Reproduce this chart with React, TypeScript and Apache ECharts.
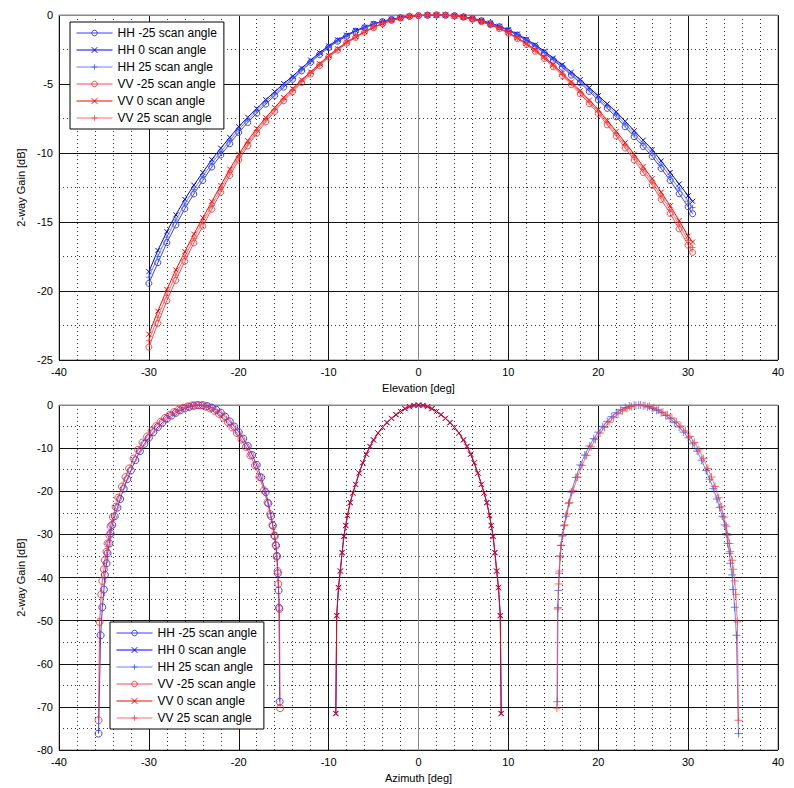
import React, { useEffect, useRef } from "react";
import * as echarts from "echarts";

// ---------- Elevation (top plot) ----------
const ELEV = [-30,-29,-28,-27,-26,-25,-24,-23,-22,-21,-20,-19,-18,-17,-16,-15,-14,-13,-12,-11,-10,-9,-8,-7,-6,-5,-4,-3,-2,-1,0,1,2,3,4,5,6,7,8,9,10,11,12,13,14,15,16,17,18,19,20,21,22,23,24,25,26,27,28,29,30,30.5];

const EL_HH_M25 = [-19.45,-17.95,-16.5,-15.22,-14.04,-12.97,-11.99,-11.02,-10.15,-9.33,-8.51,-7.79,-7.12,-6.46,-5.84,-5.23,-4.66,-4.05,-3.43,-2.87,-2.36,-1.9,-1.54,-1.18,-0.92,-0.67,-0.48,-0.32,-0.19,-0.1,-0.04,-0.01,0,-0.01,-0.05,-0.13,-0.26,-0.41,-0.62,-0.85,-1.13,-1.46,-1.85,-2.28,-2.77,-3.28,-3.79,-4.36,-4.92,-5.54,-6.15,-6.77,-7.38,-8.1,-8.82,-9.53,-10.25,-11.12,-11.99,-12.95,-13.9,-14.4];
const EL_HH_0 = [-18.6,-17.06,-15.7,-14.48,-13.36,-12.33,-11.41,-10.48,-9.65,-8.87,-8.09,-7.41,-6.78,-6.14,-5.56,-4.97,-4.44,-3.85,-3.27,-2.73,-2.24,-1.8,-1.46,-1.12,-0.88,-0.63,-0.46,-0.3,-0.19,-0.1,-0.04,-0.01,0,-0.01,-0.05,-0.13,-0.24,-0.39,-0.58,-0.81,-1.07,-1.38,-1.76,-2.16,-2.63,-3.12,-3.61,-4.14,-4.68,-5.27,-5.85,-6.44,-7.02,-7.7,-8.39,-9.07,-9.75,-10.58,-11.41,-12.25,-13.1,-13.5];
const EL_HH_25 = [-19.0,-17.5,-16.1,-14.85,-13.7,-12.65,-11.7,-10.75,-9.9,-9.1,-8.3,-7.6,-6.95,-6.3,-5.7,-5.1,-4.55,-3.95,-3.35,-2.8,-2.3,-1.85,-1.5,-1.15,-0.9,-0.65,-0.47,-0.31,-0.19,-0.1,-0.04,-0.01,0,-0.01,-0.05,-0.13,-0.25,-0.4,-0.6,-0.83,-1.1,-1.42,-1.8,-2.22,-2.7,-3.2,-3.7,-4.25,-4.8,-5.4,-6.0,-6.6,-7.2,-7.9,-8.6,-9.3,-10.0,-10.85,-11.7,-12.6,-13.5,-13.95];
const EL_VV_M25 = [-24.07,-22.34,-20.71,-19.23,-17.85,-16.52,-15.3,-14.08,-12.85,-11.63,-10.51,-9.49,-8.57,-7.75,-6.99,-6.22,-5.56,-4.9,-4.28,-3.67,-3.06,-2.55,-2.04,-1.63,-1.24,-0.92,-0.63,-0.4,-0.22,-0.1,-0.04,-0.01,0,-0.02,-0.07,-0.16,-0.31,-0.49,-0.71,-0.99,-1.33,-1.71,-2.14,-2.63,-3.16,-3.75,-4.39,-5.05,-5.71,-6.43,-7.14,-7.96,-8.77,-9.64,-10.51,-11.42,-12.34,-13.36,-14.38,-15.5,-16.68,-17.2];
const EL_VV_0 = [-23.13,-21.46,-19.89,-18.47,-17.15,-15.88,-14.7,-13.52,-12.35,-11.17,-10.09,-9.11,-8.23,-7.45,-6.71,-5.98,-5.34,-4.7,-4.12,-3.53,-2.94,-2.45,-1.96,-1.57,-1.2,-0.88,-0.61,-0.38,-0.22,-0.1,-0.04,-0.01,0,-0.02,-0.07,-0.16,-0.29,-0.47,-0.69,-0.95,-1.27,-1.65,-2.06,-2.53,-3.04,-3.61,-4.21,-4.85,-5.49,-6.17,-6.86,-7.64,-8.43,-9.26,-10.09,-10.98,-11.86,-12.84,-13.82,-14.9,-16.02,-16.45];
const EL_VV_25 = [-23.6,-21.9,-20.3,-18.85,-17.5,-16.2,-15.0,-13.8,-12.6,-11.4,-10.3,-9.3,-8.4,-7.6,-6.85,-6.1,-5.45,-4.8,-4.2,-3.6,-3.0,-2.5,-2.0,-1.6,-1.22,-0.9,-0.62,-0.39,-0.22,-0.1,-0.04,-0.01,0,-0.02,-0.07,-0.16,-0.3,-0.48,-0.7,-0.97,-1.3,-1.68,-2.1,-2.58,-3.1,-3.68,-4.3,-4.95,-5.6,-6.3,-7.0,-7.8,-8.6,-9.45,-10.3,-11.2,-12.1,-13.1,-14.1,-15.2,-16.35,-16.85];

// ---------- Azimuth (bottom plot), [azimuth deg, gain dB] ----------
const AZ_HH_M25 = [[-35.6,-76.2],[-35.37,-53.4],[-35.18,-46.9],[-35.0,-42.8],[-34.9,-39.4],[-34.7,-36.7],[-34.6,-34.4],[-34.4,-32.1],[-34.26,-29.8],[-34.07,-27.8],[-33.8,-25.8],[-33.5,-23.8],[-33.2,-21.8],[-32.8,-19.4],[-32.4,-17.2],[-32.0,-15.2],[-31.5,-12.8],[-31.0,-10.7],[-30.5,-9.0],[-30.0,-7.6],[-29.5,-6.3],[-29.0,-5.1],[-28.5,-4.1],[-28.0,-3.2],[-27.5,-2.45],[-27.0,-1.8],[-26.5,-1.25],[-26.0,-0.8],[-25.5,-0.45],[-25.0,-0.18],[-24.5,-0.03],[-24.0,-0.05],[-23.5,-0.25],[-23.0,-0.6],[-22.5,-1.1],[-22.0,-1.8],[-21.5,-2.7],[-21.0,-3.8],[-20.5,-5.0],[-20.0,-6.3],[-19.5,-7.8],[-19.0,-9.5],[-18.5,-11.6],[-18.0,-13.9],[-17.5,-16.8],[-17.0,-20.2],[-16.7,-22.8],[-16.4,-25.8],[-16.2,-28.0],[-16.0,-30.4],[-15.85,-32.6],[-15.75,-35.0],[-15.65,-39.0],[-15.57,-43.0],[-15.52,-47.0],[-15.45,-68.8]];
const AZ_VV_M25 = [[-35.6,-73.1],[-35.48,-50.3],[-35.3,-43.9],[-35.18,-40.8],[-35.0,-38.1],[-34.9,-36.0],[-34.7,-34.0],[-34.6,-32.1],[-34.4,-30.2],[-34.26,-28.1],[-34.0,-26.0],[-33.7,-23.6],[-33.4,-21.5],[-33.0,-18.9],[-32.6,-16.7],[-32.2,-14.7],[-31.7,-12.4],[-31.2,-10.4],[-30.7,-8.7],[-30.2,-7.3],[-29.7,-6.0],[-29.2,-4.9],[-28.7,-3.9],[-28.2,-3.0],[-27.7,-2.3],[-27.2,-1.65],[-26.7,-1.1],[-26.2,-0.65],[-25.7,-0.32],[-25.2,-0.1],[-24.7,-0.02],[-24.2,-0.12],[-23.7,-0.38],[-23.2,-0.8],[-22.7,-1.35],[-22.2,-2.05],[-21.7,-2.95],[-21.2,-4.0],[-20.7,-5.2],[-20.2,-6.5],[-19.7,-8.0],[-19.2,-9.7],[-18.7,-11.7],[-18.2,-14.0],[-17.7,-16.7],[-17.2,-19.8],[-16.8,-22.6],[-16.5,-25.3],[-16.25,-27.8],[-16.05,-30.2],[-15.9,-32.5],[-15.78,-35.2],[-15.68,-38.5],[-15.6,-41.5],[-15.47,-47.3],[-15.4,-70.3]];
const AZ_HH_0 = [[-9.2,-71.5],[-9.1,-48.8],[-8.9,-42.3],[-8.7,-38.5],[-8.5,-34.2],[-8.3,-30.4],[-8.1,-27.9],[-7.9,-25.6],[-7.6,-22.6],[-7.3,-20.4],[-7.0,-18.4],[-6.6,-15.8],[-6.2,-13.4],[-5.8,-11.4],[-5.4,-9.6],[-5.0,-8.1],[-4.5,-6.5],[-4.0,-5.2],[-3.5,-4.1],[-3.0,-3.1],[-2.5,-2.25],[-2.0,-1.5],[-1.5,-0.85],[-1.0,-0.38],[-0.5,-0.1],[0,0],[0.5,-0.1],[1.0,-0.38],[1.5,-0.85],[2.0,-1.5],[2.5,-2.25],[3.0,-3.1],[3.5,-4.1],[4.0,-5.2],[4.5,-6.5],[5.0,-8.1],[5.4,-9.6],[5.8,-11.4],[6.2,-13.4],[6.6,-15.8],[7.0,-18.4],[7.3,-20.4],[7.6,-22.6],[7.9,-25.6],[8.1,-27.9],[8.3,-30.4],[8.5,-34.2],[8.7,-38.5],[8.9,-42.3],[9.1,-48.8],[9.2,-71.5]];
const AZ_VV_0 = [[-9.2,-71.6],[-9.1,-48.9],[-8.9,-42.4],[-8.7,-38.5],[-8.5,-34.3],[-8.3,-30.5],[-8.1,-28.0],[-7.9,-25.6],[-7.6,-22.7],[-7.3,-20.4],[-7.0,-18.4],[-6.6,-15.8],[-6.2,-13.4],[-5.8,-11.4],[-5.4,-9.6],[-5.0,-8.1],[-4.5,-6.5],[-4.0,-5.2],[-3.5,-4.1],[-3.0,-3.1],[-2.5,-2.25],[-2.0,-1.5],[-1.5,-0.85],[-1.0,-0.38],[-0.5,-0.1],[0,0],[0.5,-0.1],[1.0,-0.38],[1.5,-0.85],[2.0,-1.5],[2.5,-2.25],[3.0,-3.1],[3.5,-4.1],[4.0,-5.2],[4.5,-6.5],[5.0,-8.1],[5.4,-9.6],[5.8,-11.4],[6.2,-13.4],[6.6,-15.8],[7.0,-18.4],[7.3,-20.4],[7.6,-22.7],[7.9,-25.6],[8.1,-28.0],[8.3,-30.5],[8.5,-34.3],[8.7,-38.5],[8.9,-42.4],[9.1,-48.9],[9.2,-71.6]];
const AZ_HH_25 = [[15.45,-68.8],[15.52,-47.0],[15.57,-43.0],[15.65,-39.0],[15.75,-35.0],[15.85,-32.6],[16.0,-30.4],[16.2,-28.0],[16.4,-25.8],[16.7,-22.8],[17.0,-20.2],[17.5,-16.8],[18.0,-13.9],[18.5,-11.6],[19.0,-9.5],[19.5,-7.8],[20.0,-6.3],[20.5,-5.0],[21.0,-3.8],[21.5,-2.7],[22.0,-1.8],[22.5,-1.1],[23.0,-0.6],[23.5,-0.25],[24.0,-0.05],[24.5,-0.03],[25.0,-0.18],[25.5,-0.45],[26.0,-0.8],[26.5,-1.25],[27.0,-1.8],[27.5,-2.45],[28.0,-3.2],[28.5,-4.1],[29.0,-5.1],[29.5,-6.3],[30.0,-7.6],[30.5,-9.0],[31.0,-10.7],[31.5,-12.8],[32.0,-15.2],[32.4,-17.2],[32.8,-19.4],[33.2,-21.8],[33.5,-23.8],[33.8,-25.8],[34.07,-27.8],[34.26,-29.8],[34.4,-32.1],[34.6,-34.4],[34.7,-36.7],[34.9,-39.4],[35.0,-42.8],[35.18,-46.9],[35.37,-53.4],[35.6,-76.2]];
const AZ_VV_25 = [[15.4,-70.3],[15.47,-47.3],[15.6,-41.5],[15.68,-38.5],[15.78,-35.2],[15.9,-32.5],[16.05,-30.2],[16.25,-27.8],[16.5,-25.3],[16.8,-22.6],[17.2,-19.8],[17.7,-16.7],[18.2,-14.0],[18.7,-11.7],[19.2,-9.7],[19.7,-8.0],[20.2,-6.5],[20.7,-5.2],[21.2,-4.0],[21.7,-2.95],[22.2,-2.05],[22.7,-1.35],[23.2,-0.8],[23.7,-0.38],[24.2,-0.12],[24.7,-0.02],[25.2,-0.1],[25.7,-0.32],[26.2,-0.65],[26.7,-1.1],[27.2,-1.65],[27.7,-2.3],[28.2,-3.0],[28.7,-3.9],[29.2,-4.9],[29.7,-6.0],[30.2,-7.3],[30.7,-8.7],[31.2,-10.4],[31.7,-12.4],[32.2,-14.7],[32.6,-16.7],[33.0,-18.9],[33.4,-21.5],[33.7,-23.6],[34.0,-26.0],[34.26,-28.1],[34.4,-30.2],[34.6,-32.1],[34.7,-34.0],[34.9,-36.0],[35.0,-38.1],[35.18,-40.8],[35.3,-43.9],[35.48,-50.3],[35.6,-73.1]];

const NAMES = ["HH -25 scan angle","HH 0 scan angle","HH 25 scan angle","VV -25 scan angle","VV 0 scan angle","VV 25 scan angle"];
const X_TICKS = { min: -40, max: 40, step: 10 };

const FONT = "'Liberation Sans', Arial, sans-serif";
const COLORS = ["#3c3cff", "#0000ff", "rgba(50,90,255,0.75)", "rgba(255,40,40,0.85)", "#ff0000", "rgba(255,60,60,0.75)"];
const SYM_X = "path://M0,0L10,10M10,0L0,10";
const SYM_PLUS = "path://M5,0L5,10M0,5L10,5";
const SYMBOLS = ["circle", SYM_X, SYM_PLUS, "circle", SYM_X, SYM_PLUS];

function mkSeries(i: number, data: number[][], idx: number, sizes: number[]) {
  return {
    type: "line",
    name: NAMES[i],
    xAxisIndex: idx,
    yAxisIndex: idx,
    data,
    symbol: SYMBOLS[i],
    symbolSize: sizes[i],
    showSymbol: true,
    lineStyle: { color: COLORS[i], width: 1 },
    itemStyle: { color: "rgba(0,0,0,0)", borderColor: COLORS[i], borderWidth: 1 },
    emphasis: { disabled: true },
    z: 2 + i,
  };
}

function xAxis(idx: number, name: string) {
  return {
    type: "value",
    gridIndex: idx,
    min: X_TICKS.min,
    max: X_TICKS.max,
    interval: X_TICKS.step,
    name,
    nameLocation: "middle",
    nameGap: 22,
    nameTextStyle: { fontFamily: FONT, fontSize: 11, color: "#000" },
    axisLine: { show: true, lineStyle: { color: "#888" } },
    axisTick: { show: false },
    axisLabel: { fontFamily: FONT, fontSize: 11, color: "#000", margin: 6 },
    splitLine: { show: true, lineStyle: { color: "#111", width: 1 } },
    minorTick: { show: false, splitNumber: 5 },
    minorSplitLine: { show: true, lineStyle: { color: "#333", width: 1, type: [1, 3] } },
  };
}

function yAxis(idx: number, min: number, interval: number) {
  return {
    type: "value",
    gridIndex: idx,
    min,
    max: 0,
    interval,
    name: "2-way Gain [dB]",
    nameLocation: "middle",
    nameGap: 30,
    nameTextStyle: { fontFamily: FONT, fontSize: 11, color: "#000" },
    axisLine: { show: true, lineStyle: { color: "#888" } },
    axisTick: { show: false },
    axisLabel: { fontFamily: FONT, fontSize: 11, color: "#000", margin: 6 },
    splitLine: { show: true, lineStyle: { color: "#111", width: 1 } },
    minorTick: { show: false, splitNumber: 2 },
    minorSplitLine: { show: true, lineStyle: { color: "#333", width: 1, type: [1, 3] } },
  };
}

function legend(left: number, top: number) {
  return {
    orient: "vertical",
    left,
    top,
    data: NAMES,
    selectedMode: false,
    backgroundColor: "#fff",
    borderColor: "#000",
    borderWidth: 1,
    borderRadius: 0,
    padding: [5, 7, 5, 6],
    itemWidth: 36,
    itemHeight: 7,
    itemGap: 5,
    lineStyle: { width: 1 },
    itemStyle: { borderWidth: 1 },
    textStyle: { fontFamily: FONT, fontSize: 12, color: "#000" },
  };
}

export default function App() {
  const ref = useRef<HTMLDivElement>(null);
  useEffect(() => {
    if (!ref.current) return;
    const chart = echarts.init(ref.current, undefined, { renderer: "svg" });
    const elSets = [EL_HH_M25, EL_HH_0, EL_HH_25, EL_VV_M25, EL_VV_0, EL_VV_25];
    const azSets = [AZ_HH_M25, AZ_HH_0, AZ_HH_25, AZ_VV_M25, AZ_VV_0, AZ_VV_25];
    const topSizes = [6, 5, 6, 6, 5, 6];
    const botSizes = [7, 5, 8, 7, 5, 8];
    const series: any[] = [];
    elSets.forEach((arr, i) => series.push(mkSeries(i, ELEV.map((x, k) => [x, arr[k]]), 0, topSizes)));
    azSets.forEach((arr, i) => series.push(mkSeries(i, arr, 1, botSizes)));
    chart.setOption({
      animation: false,
      backgroundColor: "#fff",
      textStyle: { fontFamily: FONT },
      grid: [
        { left: 59, right: 16, top: 15, height: 345, show: true, borderColor: "#888", borderWidth: 1, backgroundColor: "#fff" },
        { left: 59, right: 16, top: 405, height: 345, show: true, borderColor: "#888", borderWidth: 1, backgroundColor: "#fff" },
      ],
      xAxis: [xAxis(0, "Elevation [deg]"), xAxis(1, "Azimuth [deg]")],
      yAxis: [yAxis(0, -25, 5), yAxis(1, -80, 10)],
      legend: [legend(70, 22), legend(110, 622)],
      series,
    });
    return () => chart.dispose();
  }, []);
  return <div ref={ref} style={{ position: "fixed", left: 0, top: 0, width: 794, height: 788, background: "#fff" }} />;
}
